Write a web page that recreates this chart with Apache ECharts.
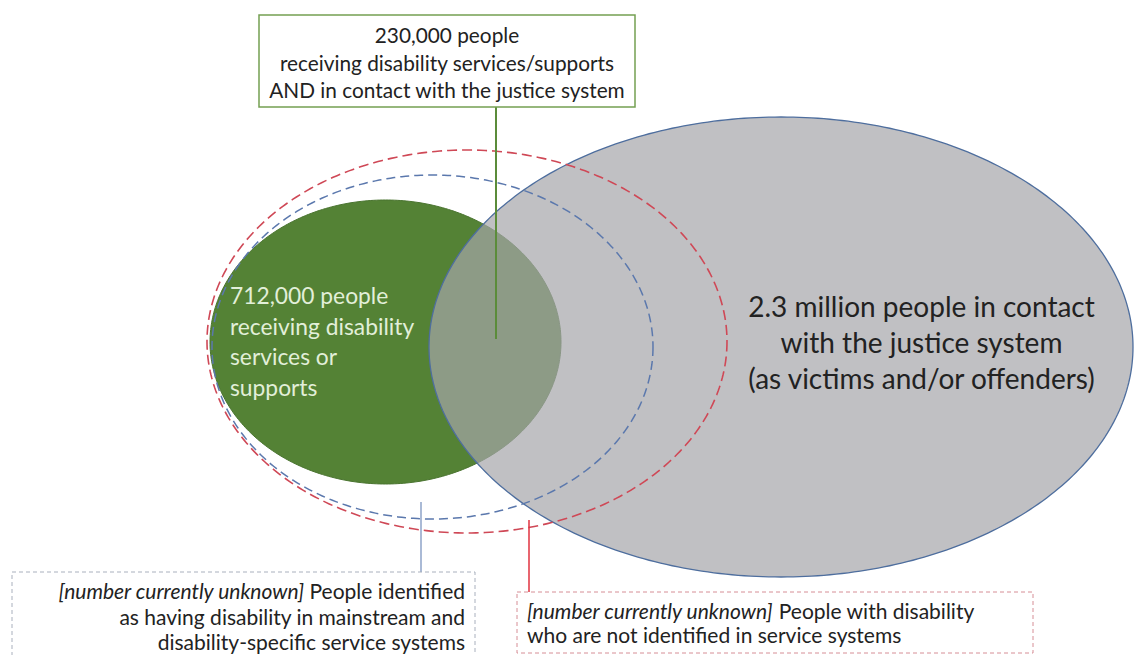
<!DOCTYPE html>
<html>
<head>
<meta charset="utf-8">
<script src="https://cdn.jsdelivr.net/npm/echarts@6/dist/echarts.min.js"></script>
<style>
html,body{margin:0;padding:0;background:#ffffff;}
#chart{width:1138px;height:655px;}
</style>
</head>
<body>
<div id="chart"></div>
<script>
// ---------------- data ----------------
const setNames = ['disability', 'justice', 'identified', 'unidentified'];
const setCounts = [712000, 2300000, null, null];
const overlapCount = 230000;
const unknownText = '[number currently unknown]';
const disabilityLines = ['people', 'receiving disability', 'services or', 'supports'];
const justiceLines = ['people in contact', 'with the justice system', '(as victims and/or offenders)'];
const overlapLines = ['people', 'receiving disability services/supports', 'AND in contact with the justice system'];
const identifiedLines = [' People identified', 'as having disability in mainstream and', 'disability-specific service systems'];
const unidentifiedLines = [' People with disability', 'who are not identified in service systems'];

// ---------------- layout (pixel space of the hidden axes) ----------------
const W = 1138, H = 655;
const FONT = 'Lato, "Open Sans", "Noto Sans", sans-serif';
const ellipseLayout = {
  disability:   {cx: 385.5, cy: 342,   rx: 175.5, ry: 142,   fill: '#548235', stroke: '#4a7430', width: 1, dash: null, z: 1},
  justice:      {cx: 781,   cy: 347,   rx: 352,   ry: 230,   fill: 'rgba(165,165,170,0.70)', stroke: '#4e6e9e', width: 1.3, dash: null, z: 2},
  identified:   {cx: 432.5, cy: 347,   rx: 220.5, ry: 172,   fill: 'none', stroke: '#5b78ad', width: 1.5, dash: [9, 5], z: 3},
  unidentified: {cx: 467,   cy: 341.5, rx: 260,   ry: 191.5, fill: 'none', stroke: '#cf4856', width: 1.6, dash: [10, 5], z: 4}
};
const connectorLayout = [
  {x: 496, y1: 107, y2: 339, color: '#5b8c3a', width: 2},
  {x: 421, y1: 502, y2: 572, color: '#8ea3c8', width: 1.5},
  {x: 529, y1: 520, y2: 592, color: '#e0323f', width: 1.5}
];
const boxLayout = [
  {x0: 259, y0: 15,  x1: 635,  y1: 107, stroke: '#74a052', width: 1.5, dash: null},
  {x0: 12,  y0: 572, x1: 475,  y1: 662, stroke: '#a9b0bd', width: 1,   dash: [4, 3]},
  {x0: 517, y0: 592, x1: 1033, y1: 653, stroke: '#d68e96', width: 1,   dash: [4, 3]}
];

function fmt(n) { return n.toLocaleString('en-US'); }
const TXT = '#222222';
const RICH_I = (size) => ({i: {fontStyle: 'italic', fontSize: size, fontFamily: FONT, fill: TXT, font: 'italic ' + size + 'px ' + FONT}});
const labelLayout = [
  {text: [fmt(overlapCount) + ' ' + overlapLines[0]].concat(overlapLines.slice(1)).join('\n'),
   x: 447, y: 62, align: 'center', size: 20.8, lh: 27.5, fill: TXT},
  {text: [fmt(setCounts[0]) + ' ' + disabilityLines[0]].concat(disabilityLines.slice(1)).join('\n'),
   x: 230, y: 341, align: 'left', size: 22.8, lh: 30.5, fill: '#e2efd9'},
  {text: [(setCounts[1] / 1e6) + ' million ' + justiceLines[0]].concat(justiceLines.slice(1)).join('\n'),
   x: 921.5, y: 342, align: 'center', size: 28, lh: 36, fill: TXT},
  {text: ['{i|' + unknownText + '}' + identifiedLines[0]].concat(identifiedLines.slice(1)).join('\n'),
   x: 465, y: 616, align: 'right', size: 21, lh: 25.5, fill: TXT, rich: true},
  {text: ['{i|' + unknownText + '}' + unidentifiedLines[0]].concat(unidentifiedLines.slice(1)).join('\n'),
   x: 527, y: 622, align: 'left', size: 21, lh: 24, fill: TXT, rich: true}
];

const chart = echarts.init(document.getElementById('chart'), null, {renderer: 'svg'});

function ellipseItem(params, api) {
  const L = ellipseLayout[setNames[params.dataIndex]];
  const pts = [];
  for (let k = 0; k < 360; k++) {
    const t = k * Math.PI / 180;
    pts.push(api.coord([L.cx + L.rx * Math.cos(t), L.cy + L.ry * Math.sin(t)]));
  }
  return {
    type: 'polygon', z2: L.z,
    shape: {points: pts},
    style: {fill: L.fill, stroke: L.stroke, lineWidth: L.width, lineDash: L.dash}
  };
}
function connectorItem(params, api) {
  const c = connectorLayout[params.dataIndex];
  const p1 = api.coord([c.x, c.y1]), p2 = api.coord([c.x, c.y2]);
  return {type: 'line', shape: {x1: p1[0], y1: p1[1], x2: p2[0], y2: p2[1]},
          style: {stroke: c.color, lineWidth: c.width}};
}
function boxItem(params, api) {
  const b = boxLayout[params.dataIndex];
  const p0 = api.coord([b.x0, b.y0]), p1 = api.coord([b.x1, b.y1]);
  return {type: 'rect', shape: {x: p0[0], y: p0[1], width: p1[0] - p0[0], height: p1[1] - p0[1]},
          style: {fill: '#ffffff', stroke: b.stroke, lineWidth: b.width, lineDash: b.dash}};
}
function labelItem(params, api) {
  const t = labelLayout[params.dataIndex];
  const p = api.coord([t.x, t.y]);
  const style = {
    text: t.text, x: p[0], y: p[1], fill: t.fill,
    fontSize: t.size, fontFamily: FONT, font: t.size + 'px ' + FONT,
    align: t.align, verticalAlign: 'middle', lineHeight: t.lh
  };
  if (t.rich) {
    style.rich = RICH_I(t.size);
    style.rich.i.lineHeight = t.lh;
  }
  return {type: 'text', style: style};
}

const idx = (arr) => arr.map((_, i) => [i]);

chart.setOption({
  animation: false,
  backgroundColor: '#ffffff',
  grid: {left: 0, right: 0, top: 0, bottom: 0},
  xAxis: {type: 'value', min: 0, max: W, show: false},
  yAxis: {type: 'value', min: 0, max: H, inverse: true, show: false},
  series: [
    {type: 'custom', z: 2, data: idx(setNames), renderItem: ellipseItem, silent: true},
    {type: 'custom', z: 3, data: idx(connectorLayout), renderItem: connectorItem, silent: true},
    {type: 'custom', z: 4, data: idx(boxLayout), renderItem: boxItem, silent: true},
    {type: 'custom', z: 5, data: idx(labelLayout), renderItem: labelItem, silent: true}
  ]
});
</script>
</body>
</html>
